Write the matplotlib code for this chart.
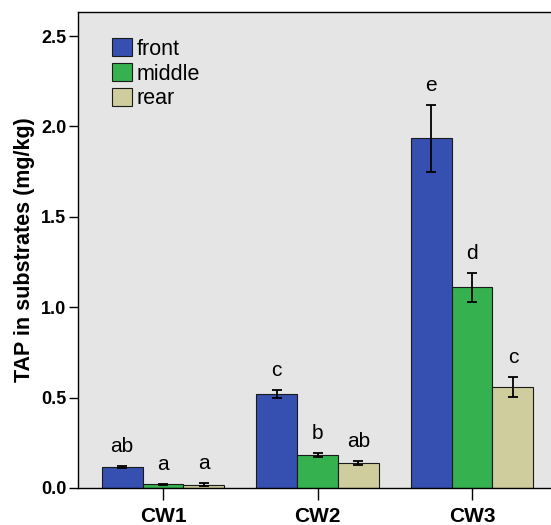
import matplotlib
matplotlib.use("Agg")
import matplotlib.pyplot as plt
from matplotlib.patches import Patch
import numpy as np

plt.rcParams['font.family'] = ['Liberation Sans', 'DejaVu Sans']

groups = ["CW1", "CW2", "CW3"]
series = ["front", "middle", "rear"]
front = [0.116, 0.520, 1.934]
middle = [0.020, 0.182, 1.110]
rear = [0.018, 0.140, 0.559]
front_err = [0.005, 0.020, 0.185]
middle_err = [0.003, 0.012, 0.080]
rear_err = [0.008, 0.012, 0.057]
front_lab = ["ab", "c", "e"]
middle_lab = ["a", "b", "d"]
rear_lab = ["a", "ab", "c"]

colors = ["#3550B0", "#35B24F", "#CFCD9D"]

values = [front, middle, rear]
errs = [front_err, middle_err, rear_err]
labs = [front_lab, middle_lab, rear_lab]

fig = plt.figure(figsize=(5.51, 5.25), dpi=100)
ax = fig.add_axes([78/551, 37/525, 479/551, 476/525])
ax.set_facecolor("#E5E5E5")

x = np.arange(len(groups))
w = 0.265
for i, (vals, er, lb) in enumerate(zip(values, errs, labs)):
    pos = x + (i - 1) * w
    ax.bar(pos, vals, width=w, color=colors[i], edgecolor="#1a1a1a", linewidth=0.8, zorder=2)
    ax.errorbar(pos, vals, yerr=er, fmt="none", ecolor="black", elinewidth=1.3,
                capsize=3.6, capthick=1.3, zorder=3)
    for p, v, e, t in zip(pos, vals, er, lb):
        ax.annotate(t, (p, v + e), xytext=(0, 10), textcoords="offset points",
                    ha="center", va="baseline", fontsize=15)

ax.set_xlim(-0.55, 2.55)
ax.set_ylim(0, 2.633)
ax.set_yticks([0.0, 0.5, 1.0, 1.5, 2.0, 2.5])
ax.set_yticklabels(["0.0", "0.5", "1.0", "1.5", "2.0", "2.5"], fontweight="bold", fontsize=13)
ax.set_xticks(x)
ax.set_xticklabels(groups, fontweight="bold", fontsize=15)
ax.tick_params(axis="y", direction="out", length=6.5, width=1, pad=2)
ax.tick_params(axis="x", direction="out", length=8.5, width=1, pad=5)
ax.set_ylabel("TAP in substrates (mg/kg)", fontweight="bold", fontsize=15.5, labelpad=4)
for s in ax.spines.values():
    s.set_linewidth(1)

handles = [Patch(facecolor=c, edgecolor="#1a1a1a", linewidth=0.8, label=s) for c, s in zip(colors, series)]
ax.legend(handles=handles, loc="upper left", bbox_to_anchor=(0.071, 0.945), frameon=False,
          fontsize=15.5, handlelength=0.93, handleheight=0.93, handletextpad=0.2, labelspacing=0.15,
          borderaxespad=0, borderpad=0)

fig.savefig("out.png", dpi=100, facecolor="white")
